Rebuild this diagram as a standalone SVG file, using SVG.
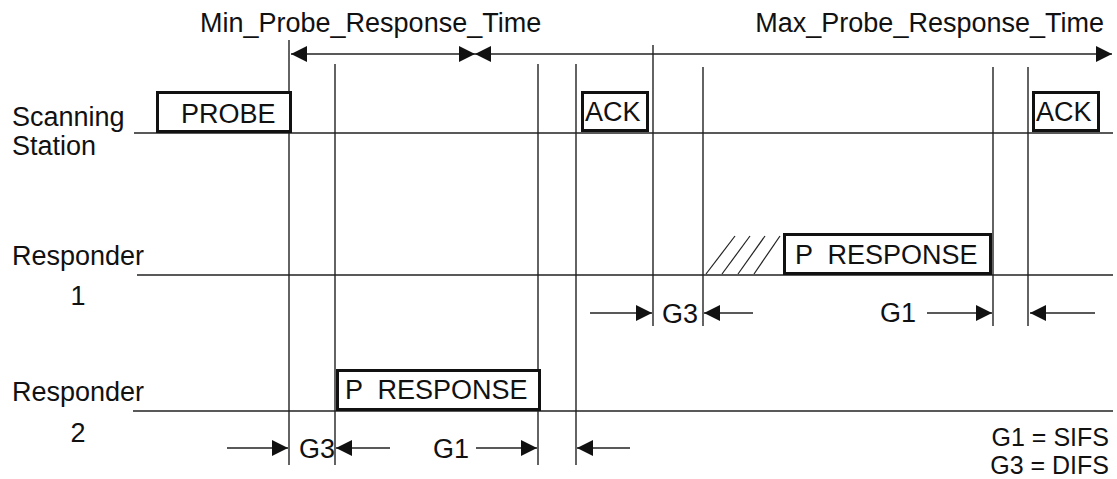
<svg xmlns="http://www.w3.org/2000/svg" width="1117" height="479" viewBox="0 0 1117 479">
<style>
text{font-family:"Liberation Sans",Arial,sans-serif;font-size:27px;fill:#111}
.lg{font-size:25px}
.ln{stroke:#222;stroke-width:1.4;fill:none}
.box{stroke:#111;stroke-width:3;fill:#fff}
.ar{stroke:#222;stroke-width:1.4;fill:none;marker-end:url(#ah)}
.hatch{stroke:#222;stroke-width:1.2}
</style>
<defs>
<marker id="ah" markerUnits="userSpaceOnUse" markerWidth="16" markerHeight="16" refX="16" refY="8" orient="auto-start-reverse"><path d="M0,0 L16,8 L0,16 z" fill="#111"/></marker>
</defs>
<rect width="1117" height="479" fill="#fff"/>
<g id="timelines">
<line class="ln" x1="134" y1="133" x2="1113" y2="133"/>
<line class="ln" x1="137" y1="275" x2="1113" y2="275"/>
<line class="ln" x1="133" y1="411" x2="1113" y2="411"/>
<line class="ln" x1="289" y1="40" x2="289" y2="465"/>
<line class="ln" x1="335" y1="64" x2="335" y2="465"/>
<line class="ln" x1="538" y1="64" x2="538" y2="465"/>
<line class="ln" x1="576" y1="64" x2="576" y2="465"/>
<line class="ln" x1="653" y1="45" x2="653" y2="326"/>
<line class="ln" x1="703" y1="67" x2="703" y2="326"/>
<line class="ln" x1="993" y1="67" x2="993" y2="326"/>
<line class="ln" x1="1028" y1="67" x2="1028" y2="326"/>
</g>
<g id="labels">
<text x="12" y="126">Scanning</text>
<text x="12" y="155">Station</text>
<text x="12" y="265">Responder</text>
<text x="78" y="305" text-anchor="middle">1</text>
<text x="12" y="401">Responder</text>
<text x="78" y="442" text-anchor="middle">2</text>
<text x="200" y="32">Min_Probe_Response_Time</text>
<text x="1104" y="32" text-anchor="end">Max_Probe_Response_Time</text>
<text class="lg" x="1109" y="446" text-anchor="end">G1 = SIFS</text>
<text class="lg" x="1109" y="474" text-anchor="end">G3 = DIFS</text>
</g>
<g id="probe">
<rect class="box" x="157.5" y="92.5" width="133" height="39"/>
<text x="181" y="123">PROBE</text>
</g>
<g id="ack1">
<rect class="box" x="582.5" y="92.5" width="65" height="38"/>
<text x="585" y="121">ACK</text>
</g>
<g id="ack2">
<rect class="box" x="1033.5" y="92.5" width="65" height="38"/>
<text x="1036" y="121">ACK</text>
</g>
<g id="presp1">
<line class="hatch" x1="706" y1="274" x2="735" y2="236"/>
<line class="hatch" x1="722" y1="274" x2="750" y2="236"/>
<line class="hatch" x1="738" y1="274" x2="765" y2="236"/>
<line class="hatch" x1="754" y1="274" x2="780" y2="236"/>
<rect class="box" x="784.5" y="234.5" width="206" height="39"/>
<text x="795" y="264" xml:space="preserve">P  RESPONSE</text>
</g>
<g id="presp2">
<rect class="box" x="337.5" y="370.5" width="202" height="39"/>
<text x="345" y="399" xml:space="preserve">P  RESPONSE</text>
</g>
<g id="gaps">
<text x="662" y="323">G3</text>
<text x="880" y="322">G1</text>
<text x="299" y="458">G3</text>
<text x="433" y="458">G1</text>
</g>
<g id="connectors">
<line class="ln" x1="291" y1="54" x2="475" y2="54" style="marker-start:url(#ah);marker-end:url(#ah)"/>
<line class="ln" x1="475" y1="54" x2="1112" y2="54" style="marker-start:url(#ah);marker-end:url(#ah)"/>
<line class="ar" x1="590" y1="313" x2="652" y2="313"/>
<line class="ar" x1="753" y1="313" x2="704" y2="313"/>
<line class="ar" x1="927" y1="313" x2="992" y2="313"/>
<line class="ar" x1="1095" y1="313" x2="1030" y2="313"/>
<line class="ar" x1="227" y1="448" x2="288" y2="448"/>
<line class="ar" x1="390" y1="448" x2="336" y2="448"/>
<line class="ar" x1="476" y1="448" x2="537" y2="448"/>
<line class="ar" x1="630" y1="448" x2="577" y2="448"/>
</g>
</svg>
